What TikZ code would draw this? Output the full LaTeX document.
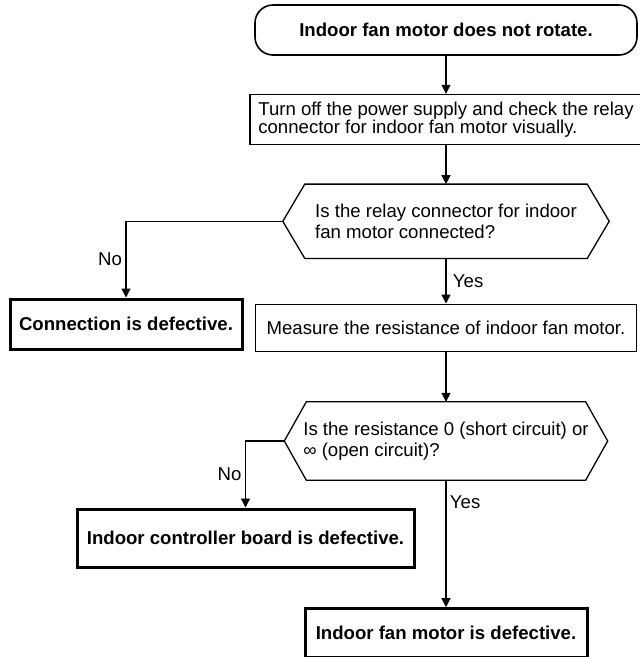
\documentclass[tikz,border=0pt]{standalone}
\usepackage{fontspec}
\setmainfont{Liberation Sans}
\usetikzlibrary{arrows.meta,positioning}
\tikzset{
  txt/.style={font=\fontsize{18.6}{16}\selectfont},
  terminal/.style={
    draw, line width=1.6pt, rounded corners=18pt, align=center, inner sep=4pt,
    minimum width=382pt, minimum height=50pt, font=\fontsize{18.6}{20}\selectfont\bfseries
  },
  proc/.style={
    draw, line width=1.3pt, align=center, inner sep=4pt, txt
  },
  result/.style={
    draw, line width=3pt, align=center, inner sep=4pt,
    font=\fontsize{18.6}{20}\selectfont\bfseries
  },
  query/.style={
    align=left, inner sep=0pt, font=\fontsize{18.6}{21}\selectfont
  },
  edge/.style={-{Triangle[length=9pt,width=9pt]}, line width=1.3pt}
}
\begin{document}
\begin{tikzpicture}[x=1pt, y=-1pt, node distance=40pt]
\useasboundingbox (0,0) rectangle (640,657);
\node[terminal] (start) at (446,30) {Indoor fan motor does not rotate.};
\node[proc, align=left, below=38pt of start, minimum width=392pt, minimum height=50pt] (check)
  {Turn off the power supply and check the relay\\connector for indoor fan motor visually.};
\node[query, below=39pt of check, minimum width=326pt, minimum height=74pt] (relay)
  {Is the relay connector for indoor\\fan motor connected?};
\node[proc, below=45pt of relay, minimum width=381pt, minimum height=47pt] (measure)
  {Measure the resistance of indoor fan motor.};
\node[query, below=50pt of measure, minimum width=323pt, minimum height=78pt] (resist)
  {Is the resistance 0 (short circuit) or\\∞ (open circuit)?};
\node[result, below=127pt of resist, minimum width=282pt, minimum height=49pt] (fan)
  {Indoor fan motor is defective.};
\node[result, minimum width=232pt, minimum height=50pt] (conn) at (126,324)
  {Connection is defective.};
\node[result, minimum width=337pt, minimum height=58pt] (ctrl) at (245.5,538)
  {Indoor controller board is defective.};
% decision outlines
\foreach \q in {relay,resist}
  \draw[line width=1.3pt] (\q.west) -- ([xshift=22pt]\q.north west) -- ([xshift=-22pt]\q.north east)
    -- (\q.east) -- ([xshift=-22pt]\q.south east) -- ([xshift=22pt]\q.south west) -- cycle;
\draw[edge] (start) -- (check);
\draw[edge] (check) -- (relay);
\draw[edge] (relay) -- node[txt, right, xshift=3pt]{Yes} (measure);
\draw[edge] (relay.west) -| node[txt, left, pos=0.75]{No} (conn);
\draw[edge] (measure) -- (resist);
\draw[edge] (resist) -- node[txt, right, pos=0.17]{Yes} (fan);
\draw[edge] (resist.west) -| node[txt, left, pos=0.75]{No} (ctrl);
\end{tikzpicture}
\end{document}
